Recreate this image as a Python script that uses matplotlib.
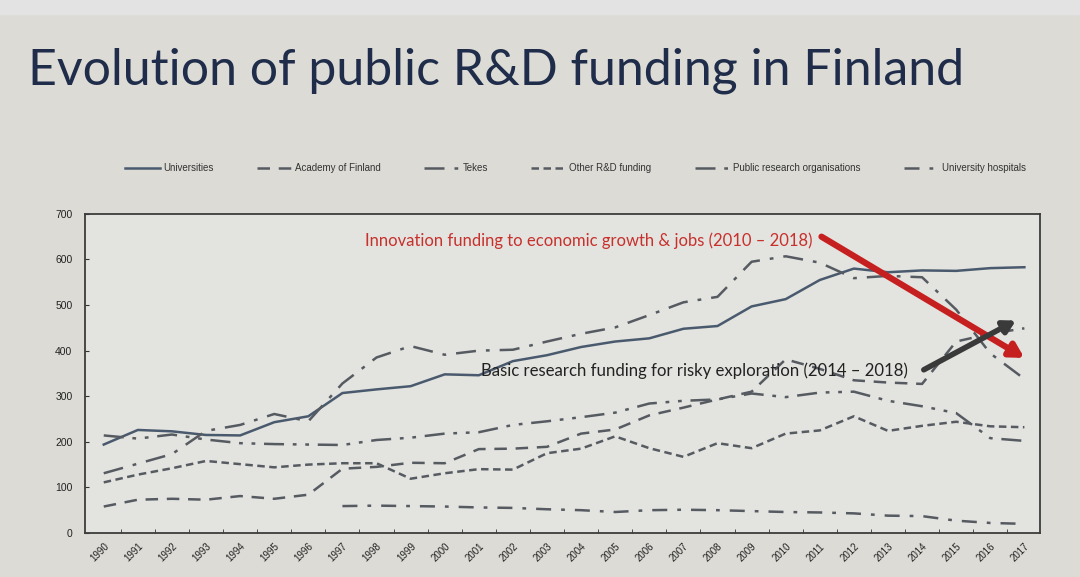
import matplotlib
matplotlib.use("Agg")
import matplotlib.pyplot as plt
import numpy as np

# public R&D funding in Finland
years = list(range(1990, 2018))

universities = [194, 226, 223, 215, 214, 243, 256, 307, 315, 322, 348, 346, 377, 390,
                408, 420, 427, 448, 454, 497, 513, 555, 580, 572, 576, 575, 581, 583]
academy = [58, 73, 75, 73, 81, 75, 84, 141, 145, 154, 153, 184, 185, 189,
           218, 227, 258, 275, 293, 310, 381, 360, 335, 330, 327, 420, 437, 449]
tekes = [131, 152, 173, 224, 237, 261, 245, 328, 385, 410, 391, 400, 402, 420,
         437, 451, 478, 506, 518, 595, 607, 593, 559, 564, 561, 490, 394, 338]
other_rd = [111, 128, 142, 158, 151, 144, 150, 153, 153, 119, 131, 140, 139, 175,
            185, 212, 186, 167, 197, 186, 218, 225, 256, 224, 235, 244, 234, 232]
public_orgs = [214, 207, 216, 205, 197, 195, 194, 193, 204, 209, 218, 221, 237, 245,
               254, 264, 284, 290, 293, 306, 298, 308, 310, 290, 278, 263, 208, 202]
hospitals = [np.nan] * 7 + [59, 60, 59, 58, 56, 55, 52, 50, 46, 50, 51, 50, 48,
                            46, 45, 43, 38, 37, 27, 22, 20]

series = [
    ("Universities", universities, "-", "#4a5a6e"),
    ("Academy of Finland", academy, (0, (5, 3.5)), "#565b62"),
    ("Tekes", tekes, (0, (8, 4, 1.5, 4)), "#565b62"),
    ("Other R&D funding", other_rd, (0, (3, 1.8)), "#565b62"),
    ("Public research organisations", public_orgs, (0, (8, 3.5, 1.5, 3.5, 1.5, 3.5)), "#565b62"),
    ("University hospitals", hospitals, (0, (6, 4, 1.5, 4)), "#565b62"),
]

fig = plt.figure(figsize=(10.8, 5.77), dpi=100)
fig.patch.set_facecolor("#dcdbd6")
fig.patches.append(plt.Rectangle((0, 1 - 14 / 577), 1, 14 / 577, transform=fig.transFigure,
                                 color="#e3e3e3", zorder=0))

fig.text(28 / 1080, 1 - 84 / 577, "Evolution of public R&D funding in Finland",
         fontsize=36, family="Lato", color="#1f2c4a", va="baseline", ha="left")

ax = fig.add_axes([0.0787, 0.0763, 0.884, 0.553])
ax.set_facecolor("#e3e3df")

handles = []
for name, vals, ls, col in series:
    h, = ax.plot(years, vals, linestyle=ls, color=col, lw=1.8, label=name)
    handles.append(h)

ax.set_xlim(1989.45, 2017.45)
ax.set_ylim(0, 700)
ax.set_yticks(range(0, 701, 100))
ax.set_xticks(years)
ax.set_xticklabels([str(y) for y in years], rotation=45, ha="right", va="top",
                   rotation_mode="anchor", fontsize=7, family="Liberation Sans", color="#222")
ax.set_xticks([y + 0.5 for y in years[:-1]], minor=True)
ax.tick_params(axis="x", which="major", length=0, pad=6)
ax.tick_params(axis="x", which="minor", direction="in", length=3, color="#333")
ax.tick_params(axis="y", direction="in", length=3, color="#333", labelsize=7.5, pad=9,
               labelcolor="#222")
for lab in ax.get_yticklabels():
    lab.set_family("Liberation Sans")
for sp in ax.spines.values():
    sp.set_color("#3c3c3c")
    sp.set_linewidth(1.3)

fig.legend(handles=handles, loc="center", bbox_to_anchor=(0.533, 1 - 168 / 577), ncol=6,
           frameon=False, handlelength=3.6, columnspacing=4.5, handletextpad=0.3,
           prop={"family": "Liberation Sans", "size": 7}, labelcolor="#333")

# annotations
ax.text(1997.66, 641, "Innovation funding to economic growth & jobs (2010 \u2013 2018)",
        color="#c8302c", fontsize=12, family="Lato", va="center", ha="left")
ax.annotate("", xy=(2017.0, 384), xytext=(2011.05, 650),
            arrowprops=dict(arrowstyle="-|>,head_length=0.8,head_width=0.45",
                            color="#c61f1f", lw=4.5, shrinkA=0, shrinkB=0))
ax.text(2001.05, 357, "Basic research funding for risky exploration (2014 \u2013 2018)",
        color="#222222", fontsize=12.1, family="Lato", va="center", ha="left")
ax.annotate("", xy=(2016.75, 466), xytext=(2014.05, 358),
            arrowprops=dict(arrowstyle="-|>,head_length=0.7,head_width=0.4",
                            color="#3a3a3a", lw=4, shrinkA=0, shrinkB=0))

fig.savefig("out.png", dpi=100, facecolor=fig.get_facecolor())
